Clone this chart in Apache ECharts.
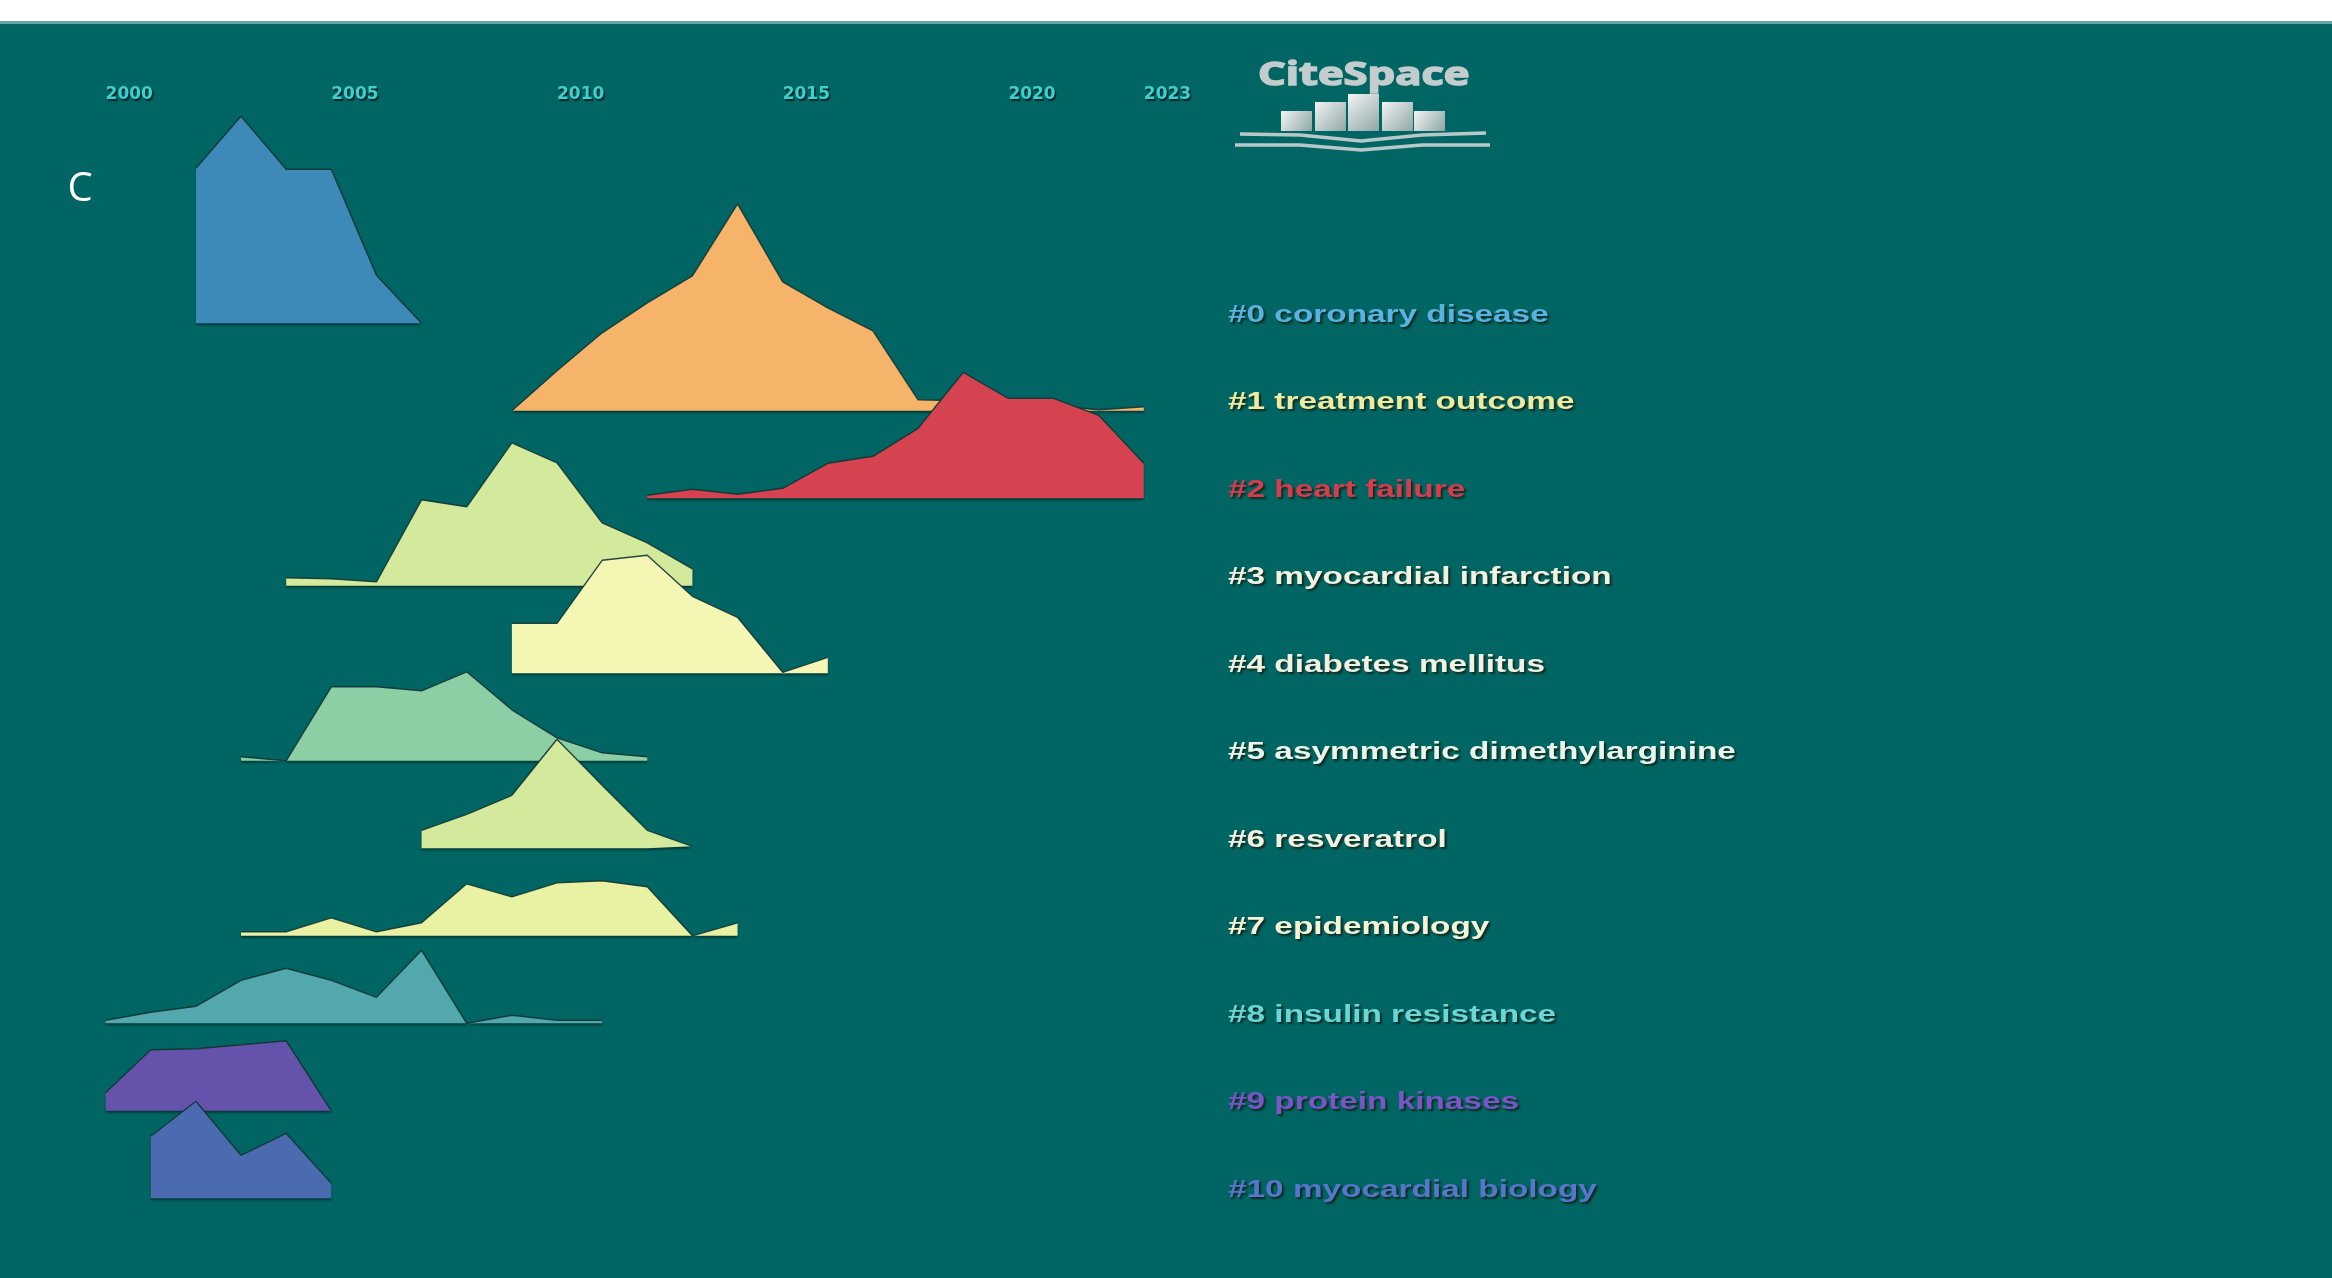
<!DOCTYPE html>
<html><head><meta charset="utf-8">
<script src="https://cdn.jsdelivr.net/npm/echarts@6/dist/echarts.min.js"></script>
<style>html,body{margin:0;padding:0;background:#fff}#c{width:2332px;height:1278px}</style>
</head><body><div id="c"></div>
<script>
// ---- data ----
const tickYears = [2000, 2005, 2010, 2015, 2020, 2023];
const clusterLabels = [
  '#0 coronary disease', '#1 treatment outcome', '#2 heart failure',
  '#3 myocardial infarction', '#4 diabetes mellitus', '#5 asymmetric dimethylarginine',
  '#6 resveratrol', '#7 epidemiology', '#8 insulin resistance',
  '#9 protein kinases', '#10 myocardial biology'
];
const startYears = [2002, 2009, 2012, 2004, 2009, 2003, 2007, 2003, 2000, 2000, 2001];
const v0 = [15.5, 20.7, 15.4, 15.4, 4.8, 0];
const v1 = [0, 4.0, 7.8, 10.8, 13.5, 20.7, 12.9, 10.3, 8.0, 1.1, 1.0, 0.8, 0.5, 0.1, 0.4];
const v2 = [0.3, 0.9, 0.4, 1.0, 3.5, 4.2, 7.0, 12.6, 10.0, 10.0, 8.3, 3.5];
const v3 = [0.8, 0.7, 0.4, 8.6, 7.9, 14.3, 12.3, 6.3, 4.3, 1.7];
const v4 = [5.0, 5.0, 11.3, 11.8, 7.7, 5.6, 0.1, 1.6];
const v5 = [0.4, 0, 7.4, 7.4, 7.0, 8.9, 5.1, 2.3, 0.8, 0.4];
const v6 = [1.8, 3.4, 5.3, 10.9, 6.3, 1.8, 0.2];
const v7 = [0.4, 0.4, 1.8, 0.4, 1.3, 5.2, 3.9, 5.3, 5.5, 4.9, 0, 1.3];
const v8 = [0.3, 1.1, 1.7, 4.3, 5.5, 4.3, 2.6, 7.3, 0, 0.8, 0.3, 0.3];
const v9 = [1.8, 6.1, 6.2, 6.6, 7.0, 0];
const v10 = [6.2, 9.7, 4.3, 6.5, 1.5];
const clusterValues = [v0, v1, v2, v3, v4, v5, v6, v7, v8, v9, v10];

// ---- styling ----
const areaColors = ['#3d8ab8', '#f5b46a', '#d4434f', '#d3e99b', '#f4f6b4', '#8dcfa4',
                    '#d3e99b', '#e8f2a2', '#52a8ac', '#6552ab', '#4a6bb0'];
const labelColors = ['#5ab2e0', '#eeeaa0', '#d83c4c', '#f2f2e2', '#f2f2e2', '#eaf5ec',
                     '#f2f2e2', '#f4f4d8', '#6ad6d6', '#7756c8', '#5676cc'];
const BG = '#016663';
const L = 105.6, W = 1038.2, BASE0 = 323.3, STEP = 87.5, H = 240, YMAX = 24;

const grids = [], xAxes = [], yAxes = [], series = [], graphics = [];
clusterValues.forEach((vals, i) => {
  const base = BASE0 + STEP * i;
  grids.push({ left: L, width: W, top: base - H, height: H });
  const xa = { gridIndex: i, type: 'value', min: 2000, max: 2023, show: false };
  if (i === 0) {
    Object.assign(xa, {
      show: true, position: 'top', offset: -11.5,
      axisLine: { show: false }, axisTick: { show: false }, splitLine: { show: false },
      axisLabel: {
        customValues: tickYears, formatter: v => String(v), align: 'left',
        verticalAlign: 'middle', margin: 0,
        color: '#3ed0cf', fontFamily: 'DejaVu Sans', fontWeight: 'bold', fontSize: 17,
        textShadowColor: 'rgba(0,30,30,0.9)', textShadowOffsetX: 1.5, textShadowOffsetY: 1.5, textShadowBlur: 1
      }
    });
  }
  xAxes.push(xa);
  yAxes.push({ gridIndex: i, type: 'value', min: 0, max: YMAX, show: false });
  series.push({
    type: 'line', xAxisIndex: i, yAxisIndex: i, name: clusterLabels[i],
    z: 2 + i,
    data: vals.map((v, k) => [startYears[i] + k, v]),
    symbol: 'none', smooth: false, clip: false, silent: true,
    lineStyle: { color: 'rgba(18,52,52,0.9)', width: 1.4 },
    areaStyle: { color: areaColors[i], opacity: 1,
                 shadowColor: 'rgba(0,30,30,0.6)', shadowOffsetY: 2, shadowBlur: 2 }
  });
  graphics.push({
    type: 'text', x: 1228, y: base - 8, scaleX: 1.45, z: 100,
    style: {
      text: clusterLabels[i], fill: labelColors[i],
      font: 'bold 23px "Liberation Sans", Arial, sans-serif',
      align: 'left', verticalAlign: 'middle', textAlign: 'left', textVerticalAlign: 'middle',
      textShadowColor: 'rgba(20,30,20,0.85)', textShadowOffsetX: 2, textShadowOffsetY: 2, textShadowBlur: 2,
      shadowColor: 'rgba(20,30,20,0.85)', shadowOffsetX: 2, shadowOffsetY: 2, shadowBlur: 2
    }
  });
});

// top white band
graphics.push({ type: 'rect', shape: { x: 0, y: 0, width: 2332, height: 22 }, style: { fill: '#ffffff' }, z: 120 });
graphics.push({ type: 'rect', shape: { x: 0, y: 21, width: 2332, height: 3 }, style: { fill: '#6aa6a6' }, z: 120 });
// panel letter
graphics.push({ type: 'text', x: 80, y: 190, z: 100,
  style: { text: 'C', fill: '#ffffff', font: '40px "Open Sans", sans-serif', align: 'center', verticalAlign: 'middle',
           textAlign: 'center', textVerticalAlign: 'middle' } });
// CiteSpace logo
graphics.push({ type: 'text', x: 1258, y: 76, scaleX: 1.36, z: 100,
  style: { text: 'CiteSpace', fill: '#c3cdcd', stroke: '#c3cdcd', lineWidth: 1.5,
           font: 'bold 32px "Open Sans", sans-serif',
           align: 'left', verticalAlign: 'middle', textAlign: 'left', textVerticalAlign: 'middle' } });
const bars = [[1281, 111], [1315, 102], [1348, 94], [1382, 102], [1414, 111]];
bars.forEach(b => graphics.push({ type: 'rect', z: 100,
  shape: { x: b[0], y: b[1], width: 31, height: 131 - b[1] },
  style: { fill: new echarts.graphic.LinearGradient(0, 0, 1, 1, [
    { offset: 0, color: '#f2f4f4' }, { offset: 1, color: '#8fa6a6' }]) } }));
graphics.push({ type: 'polyline', z: 100, shape: { points: [[1240, 134], [1300, 135], [1361, 141], [1422, 135], [1486, 133]] },
  style: { stroke: '#b8c8c8', lineWidth: 3.5, fill: null } });
graphics.push({ type: 'polyline', z: 100, shape: { points: [[1235, 145], [1300, 145], [1361, 150], [1422, 145], [1490, 145]] },
  style: { stroke: '#b8c8c8', lineWidth: 3.5, fill: null } });

const chart = echarts.init(document.getElementById('c'), null, { renderer: 'canvas' });
chart.setOption({
  backgroundColor: BG,
  animation: false,
  grid: grids, xAxis: xAxes, yAxis: yAxes, series: series,
  graphic: graphics
});
</script></body></html>
